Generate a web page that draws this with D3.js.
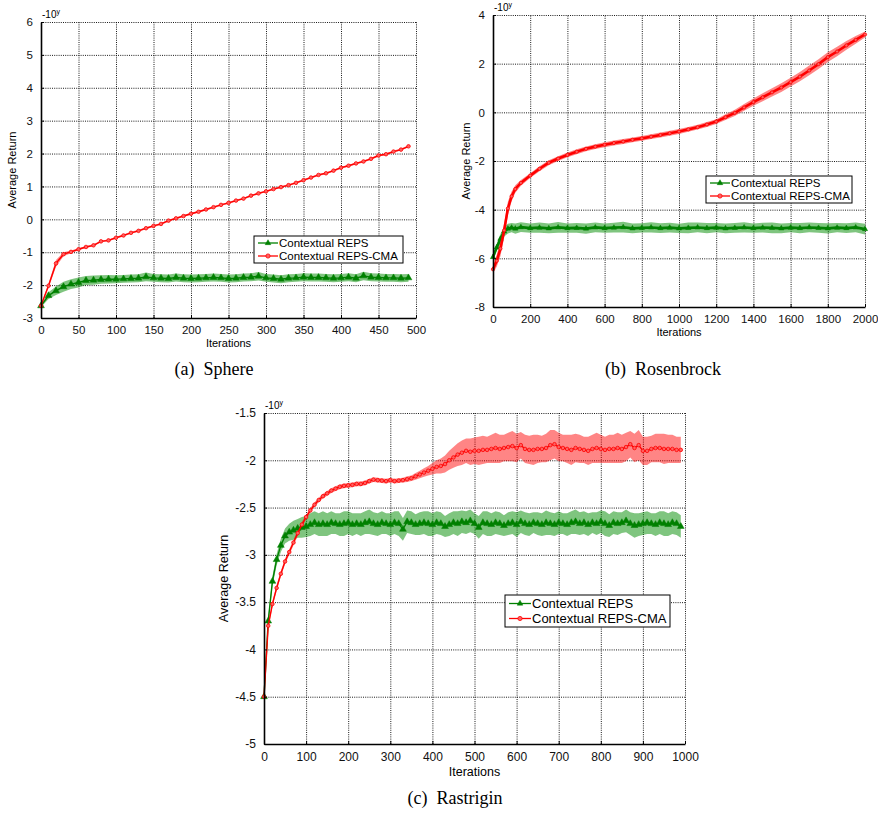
<!DOCTYPE html>
<html>
<head>
<meta charset="utf-8">
<script src="https://cdn.jsdelivr.net/npm/d3@7"></script>
<style>
body { margin: 0; background: #fff; }
svg { font-family: "Liberation Sans", Arial, sans-serif; }
.grid line { stroke: #000; stroke-dasharray: 1,1.2; stroke-width: 0.9; }
.grid path { display: none; }
.axis path { stroke: #000; stroke-width: 1.6; }
.axis line { stroke: #000; }
.axis text { fill: #111; }
.cap { font-family: "Liberation Serif", "Times New Roman", serif; font-size: 18px; }
</style>
</head>
<body>
<svg id="fig" width="878" height="815"></svg>
<script>
// (a) Sphere
var sphereIter = d3.range(0, 500, 10);
var sphereRed = [-2.63,-2.02,-1.34,-1.06,-0.99,-0.91,-0.84,-0.79,-0.67,-0.64,
  -0.56,-0.49,-0.41,-0.35,-0.27,-0.2,-0.14,-0.04,0.03,0.1,
  0.17,0.23,0.3,0.37,0.44,0.5,0.57,0.63,0.72,0.79,
  0.85,0.92,0.98,1.04,1.11,1.19,1.27,1.35,1.4,1.48,
  1.57,1.63,1.7,1.76,1.84,1.94,1.98,2.06,2.12,2.22];
var sphereRedSd = [0.03,0.07,0.1,0.06,0.04,0.03,0.03,0.03,0.03,0.03,
  0.03,0.03,0.03,0.03,0.03,0.03,0.03,0.03,0.03,0.03,
  0.03,0.03,0.03,0.03,0.03,0.03,0.03,0.03,0.03,0.03,
  0.03,0.03,0.03,0.03,0.03,0.03,0.03,0.03,0.03,0.03,
  0.03,0.03,0.03,0.03,0.03,0.03,0.03,0.03,0.03,0.03];
var sphereGreen = [-2.63,-2.32,-2.17,-2.05,-1.97,-1.92,-1.86,-1.85,-1.83,-1.82,
  -1.82,-1.81,-1.8,-1.79,-1.75,-1.78,-1.79,-1.8,-1.77,-1.79,
  -1.8,-1.79,-1.78,-1.77,-1.78,-1.8,-1.79,-1.77,-1.76,-1.73,
  -1.78,-1.8,-1.82,-1.79,-1.78,-1.76,-1.77,-1.77,-1.78,-1.79,
  -1.78,-1.76,-1.79,-1.72,-1.76,-1.77,-1.78,-1.78,-1.79,-1.78];
var sphereGreenSd = [0.04,0.1,0.13,0.15,0.15,0.15,0.14,0.14,0.13,0.13,
  0.12,0.12,0.12,0.12,0.13,0.12,0.12,0.12,0.12,0.12,
  0.12,0.12,0.12,0.12,0.12,0.12,0.12,0.12,0.12,0.13,
  0.12,0.12,0.12,0.12,0.12,0.12,0.12,0.12,0.12,0.12,
  0.12,0.12,0.12,0.13,0.12,0.12,0.12,0.12,0.12,0.12];

// (b) Rosenbrock
var rosIter = [0,20,40,60,80,100,120,150,200,250,300,350,400,450,500,550,600,650,700,750,
  800,850,900,950,1000,1050,1100,1150,1200,1250,1300,1350,1400,1450,1500,1550,1600,1650,
  1700,1750,1800,1850,1900,1950,2000];
var rosRed = [-6.45,-6.1,-5.6,-4.85,-3.95,-3.45,-3.15,-2.9,-2.6,-2.32,-2.07,-1.9,-1.75,-1.62,
  -1.5,-1.41,-1.33,-1.26,-1.2,-1.13,-1.07,-1.0,-0.93,-0.86,-0.79,-0.7,-0.61,-0.5,-0.38,
  -0.2,-0.02,0.2,0.42,0.62,0.82,1.02,1.24,1.47,1.72,1.98,2.27,2.5,2.75,2.98,3.2];
var rosRedSd = [0.15,0.25,0.3,0.3,0.28,0.2,0.15,0.12,0.1,0.1,0.1,0.1,0.1,0.1,0.1,0.1,
  0.1,0.1,0.1,0.1,0.1,0.1,0.1,0.1,0.1,0.1,0.1,0.1,0.1,
  0.12,0.13,0.14,0.15,0.16,0.17,0.18,0.18,0.19,0.2,0.2,0.2,0.2,0.18,0.16,0.12];
var rosGreen = [-5.95,-5.55,-5.2,-4.9,-4.78,-4.74,-4.78,-4.72,-4.76,-4.74,-4.77,-4.73,-4.76,
  -4.75,-4.78,-4.73,-4.76,-4.74,-4.72,-4.77,-4.75,-4.73,-4.76,-4.74,-4.77,-4.75,-4.73,
  -4.76,-4.74,-4.77,-4.75,-4.73,-4.76,-4.74,-4.75,-4.77,-4.74,-4.76,-4.73,-4.75,-4.77,
  -4.74,-4.76,-4.73,-4.8];
var rosGreenSd = [0.1,0.15,0.2,0.2,0.2,0.19,0.21,0.2,0.19,0.21,0.2,0.22,0.19,0.2,0.21,0.2,
  0.19,0.2,0.22,0.2,0.19,0.21,0.2,0.2,0.19,0.22,0.2,0.21,0.19,0.2,0.2,0.21,0.19,0.2,
  0.22,0.2,0.19,0.21,0.2,0.2,0.21,0.19,0.2,0.2,0.22];

// (c) Rastrigin
var rasIter = d3.range(0, 1000, 10);
var rasRed = [-4.5,-3.75,-3.52,-3.35,-3.2,-3.07,-2.97,-2.87,-2.77,-2.68,
  -2.6,-2.53,-2.47,-2.42,-2.38,-2.35,-2.32,-2.3,-2.28,-2.27,
  -2.265,-2.26,-2.25,-2.25,-2.24,-2.22,-2.205,-2.21,-2.215,-2.22,
  -2.21,-2.22,-2.215,-2.21,-2.2,-2.19,-2.17,-2.15,-2.13,-2.11,
  -2.09,-2.07,-2.06,-2.04,-2.0,-1.97,-1.94,-1.92,-1.9,-1.91,
  -1.9,-1.9,-1.89,-1.89,-1.88,-1.87,-1.88,-1.87,-1.86,-1.85,
  -1.87,-1.84,-1.88,-1.89,-1.89,-1.88,-1.88,-1.87,-1.84,-1.83,
  -1.86,-1.87,-1.88,-1.89,-1.87,-1.88,-1.89,-1.9,-1.88,-1.87,
  -1.88,-1.89,-1.88,-1.88,-1.87,-1.88,-1.86,-1.83,-1.87,-1.84,
  -1.9,-1.9,-1.88,-1.87,-1.87,-1.88,-1.88,-1.88,-1.89,-1.89];
var rasRedSd = [0.01,0.03,0.03,0.03,0.03,0.03,0.03,0.03,0.03,0.03,
  0.025,0.025,0.025,0.025,0.025,0.025,0.025,0.025,0.025,0.025,
  0.025,0.025,0.025,0.025,0.025,0.025,0.025,0.025,0.025,0.025,
  0.025,0.025,0.025,0.025,0.03,0.03,0.035,0.04,0.045,0.05,
  0.06,0.07,0.08,0.09,0.1,0.11,0.12,0.13,0.13,0.14,
  0.14,0.15,0.15,0.14,0.15,0.16,0.15,0.14,0.15,0.16,
  0.15,0.14,0.15,0.15,0.16,0.15,0.14,0.15,0.16,0.15,
  0.15,0.14,0.15,0.16,0.15,0.15,0.14,0.15,0.15,0.16,
  0.15,0.14,0.15,0.15,0.16,0.15,0.15,0.14,0.15,0.16,
  0.15,0.15,0.14,0.15,0.15,0.16,0.15,0.15,0.14,0.14];
var rasGreen = [-4.5,-3.7,-3.28,-3.05,-2.9,-2.8,-2.76,-2.74,-2.72,-2.71,
  -2.7,-2.68,-2.66,-2.68,-2.67,-2.68,-2.66,-2.67,-2.68,-2.67,
  -2.66,-2.68,-2.67,-2.68,-2.66,-2.65,-2.67,-2.68,-2.66,-2.67,
  -2.68,-2.66,-2.67,-2.73,-2.65,-2.66,-2.68,-2.67,-2.66,-2.67,
  -2.68,-2.66,-2.67,-2.7,-2.68,-2.66,-2.67,-2.65,-2.66,-2.64,
  -2.67,-2.71,-2.66,-2.67,-2.68,-2.66,-2.67,-2.69,-2.67,-2.66,
  -2.68,-2.65,-2.67,-2.68,-2.66,-2.67,-2.68,-2.66,-2.67,-2.68,
  -2.66,-2.67,-2.68,-2.66,-2.65,-2.67,-2.66,-2.68,-2.66,-2.67,
  -2.65,-2.67,-2.69,-2.66,-2.67,-2.66,-2.64,-2.67,-2.69,-2.68,
  -2.67,-2.66,-2.67,-2.68,-2.66,-2.67,-2.68,-2.66,-2.67,-2.7];
var rasGreenSd = [0.01,0.04,0.05,0.06,0.07,0.08,0.09,0.1,0.1,0.11,
  0.11,0.12,0.12,0.12,0.13,0.12,0.12,0.11,0.12,0.13,
  0.12,0.12,0.11,0.12,0.12,0.13,0.12,0.12,0.12,0.11,
  0.12,0.12,0.13,0.12,0.12,0.12,0.11,0.12,0.12,0.13,
  0.12,0.12,0.12,0.11,0.12,0.12,0.13,0.12,0.12,0.12,
  0.11,0.12,0.12,0.13,0.12,0.12,0.12,0.11,0.12,0.12,
  0.13,0.12,0.12,0.12,0.11,0.12,0.12,0.13,0.12,0.12,
  0.12,0.11,0.12,0.12,0.13,0.12,0.12,0.12,0.11,0.12,
  0.12,0.13,0.12,0.12,0.12,0.11,0.12,0.12,0.13,0.12,
  0.12,0.12,0.11,0.12,0.12,0.13,0.12,0.12,0.12,0.12];

var legendNames = ["Contextual REPS", "Contextual REPS-CMA"];

var GREEN = "#008000", RED = "#ff0000";
var GREEN_BAND = "rgba(0,140,0,0.5)", RED_BAND = "rgba(255,0,0,0.48)";

var svg = d3.select("#fig");

function drawMarker(g, kind, cx, cy, size) {
  if (kind === "tri") {
    g.append("path")
      .attr("transform", "translate(" + cx + "," + cy + ")")
      .attr("d", d3.symbol(d3.symbolTriangle).size(size)())
      .attr("fill", GREEN).attr("stroke", GREEN).attr("stroke-width", 0.5);
  } else {
    g.append("circle").attr("cx", cx).attr("cy", cy).attr("r", Math.sqrt(size / Math.PI))
      .attr("fill", "#ff6060").attr("stroke", RED).attr("stroke-width", 0.8);
  }
}

function drawPanel(o) {
  var x = d3.scaleLinear().domain(o.xDomain).range([o.left, o.right]);
  var y = d3.scaleLinear().domain(o.yDomain).range([o.bottom, o.top]);
  var w = o.right - o.left, h = o.bottom - o.top;
  var g = svg.append("g");

  g.append("g").attr("class", "grid")
    .attr("transform", "translate(0," + o.bottom + ")")
    .call(d3.axisBottom(x).tickValues(o.xTicks).tickSize(-h).tickFormat(""));
  g.append("g").attr("class", "grid")
    .attr("transform", "translate(" + o.left + ",0)")
    .call(d3.axisLeft(y).tickValues(o.yTicks).tickSize(-w).tickFormat(""));

  var area = d3.area()
    .x(function(d) { return x(d.it); })
    .y0(function(d) { return y(d.m - d.sd); })
    .y1(function(d) { return y(d.m + d.sd); });
  var line = d3.line()
    .x(function(d) { return x(d.it); })
    .y(function(d) { return y(d.m); });

  var sets = o.series.map(function(s) {
    return s.iter.map(function(it, i) { return {it: it, m: s.mean[i], sd: s.sd[i]}; });
  });

  sets.forEach(function(pts, k) {
    g.append("path").datum(pts).attr("fill", o.series[k].band).attr("d", area);
  });
  sets.forEach(function(pts, k) {
    var s = o.series[k];
    g.append("path").datum(pts).attr("fill", "none")
      .attr("stroke", s.color).attr("stroke-width", s.lw).attr("d", line);
    pts.forEach(function(d) { drawMarker(g, s.marker, x(d.it), y(d.m), s.ms); });
  });

  g.append("g").attr("class", "axis")
    .attr("transform", "translate(0," + o.bottom + ")")
    .call(d3.axisBottom(x).tickValues(o.xTicks).tickSizeInner(-3).tickSizeOuter(0)
      .tickPadding(8).tickFormat(function(d) { return String(d); }))
    .selectAll("text").style("font-size", o.fs + "px");
  g.append("g").attr("class", "axis")
    .attr("transform", "translate(" + o.left + ",0)")
    .call(d3.axisLeft(y).tickValues(o.yTicks).tickSizeInner(-3).tickSizeOuter(0)
      .tickPadding(8).tickFormat(function(d) { return String(d); }))
    .selectAll("text").style("font-size", o.fs + "px");

  // exponent label
  var ex = g.append("text").attr("x", o.left + 1).attr("y", o.top - 4)
    .style("font-size", "10px");
  ex.append("tspan").text("-10");
  ex.append("tspan").attr("dy", -4).style("font-size", "7px").text("y");

  g.append("text").attr("x", (o.left + o.right) / 2).attr("y", o.xLabelY)
    .attr("text-anchor", "middle").style("font-size", o.lfs + "px").text("Iterations");
  g.append("text")
    .attr("transform", "translate(" + o.yLabelX + "," + (o.top + o.bottom) / 2 + ") rotate(-90)")
    .attr("text-anchor", "middle").style("font-size", o.lfs + "px").text("Average Return");

  // legend
  var L = o.legend;
  var lg = g.append("g").attr("transform", "translate(" + L.x + "," + L.y + ")");
  lg.append("rect").attr("width", L.w).attr("height", L.h)
    .attr("fill", "#fff").attr("stroke", "#000").attr("stroke-width", 1);
  o.series.forEach(function(s, k) {
    var ry = L.h / 2 + (k === 0 ? -L.gap / 2 : L.gap / 2);
    lg.append("line").attr("x1", 4).attr("x2", L.lineW + 4).attr("y1", ry).attr("y2", ry)
      .attr("stroke", s.color).attr("stroke-width", 1.3);
    drawMarker(lg, s.marker, 4 + L.lineW / 2, ry, 14);
    lg.append("text").attr("x", L.lineW + 5).attr("y", ry).attr("dy", "0.36em")
      .style("font-size", L.fs + "px").text(legendNames[k]);
  });

  g.append("text").attr("class", "cap").attr("x", o.capX).attr("y", o.capY)
    .attr("text-anchor", "middle").text(o.caption);
}

drawPanel({
  left: 41, right: 416, top: 22, bottom: 318,
  xDomain: [0, 500], yDomain: [-3, 6],
  xTicks: d3.range(0, 501, 50), yTicks: d3.range(-3, 7, 1),
  fs: 11.5, lfs: 11, xLabelY: 347, yLabelX: 16,
  series: [
    {iter: sphereIter, mean: sphereGreen, sd: sphereGreenSd, color: GREEN, band: GREEN_BAND, marker: "tri", lw: 1.4, ms: 20},
    {iter: sphereIter, mean: sphereRed, sd: sphereRedSd, color: RED, band: RED_BAND, marker: "circ", lw: 1.4, ms: 10}
  ],
  legend: {x: 254, y: 236, w: 149, h: 27, gap: 13, lineW: 20, fs: 11.5},
  caption: "(a)\u00a0\u00a0Sphere", capX: 214, capY: 375
});

drawPanel({
  left: 493, right: 865, top: 15, bottom: 307,
  xDomain: [0, 2000], yDomain: [-8, 4],
  xTicks: d3.range(0, 2001, 200), yTicks: d3.range(-8, 5, 2),
  fs: 11.5, lfs: 11, xLabelY: 336, yLabelX: 470,
  series: [
    {iter: rosIter, mean: rosGreen, sd: rosGreenSd, color: GREEN, band: GREEN_BAND, marker: "tri", lw: 2.6, ms: 12},
    {iter: rosIter, mean: rosRed, sd: rosRedSd, color: RED, band: RED_BAND, marker: "circ", lw: 2.6, ms: 8}
  ],
  legend: {x: 706, y: 176, w: 146, h: 27, gap: 13, lineW: 20, fs: 11.5},
  caption: "(b)\u00a0\u00a0Rosenbrock", capX: 663, capY: 375
});

drawPanel({
  left: 264, right: 685, top: 413, bottom: 744,
  xDomain: [0, 1000], yDomain: [-5, -1.5],
  xTicks: d3.range(0, 1001, 100), yTicks: [-5, -4.5, -4, -3.5, -3, -2.5, -2, -1.5],
  fs: 12, lfs: 12.5, xLabelY: 776, yLabelX: 228,
  series: [
    {iter: rasIter, mean: rasGreen, sd: rasGreenSd, color: GREEN, band: GREEN_BAND, marker: "tri", lw: 1.4, ms: 20},
    {iter: rasIter, mean: rasRed, sd: rasRedSd, color: RED, band: RED_BAND, marker: "circ", lw: 1.4, ms: 10}
  ],
  legend: {x: 505, y: 595, w: 165, h: 32, gap: 15, lineW: 22, fs: 13},
  caption: "(c)\u00a0\u00a0Rastrigin", capX: 455, capY: 804
});
</script>
</body>
</html>
